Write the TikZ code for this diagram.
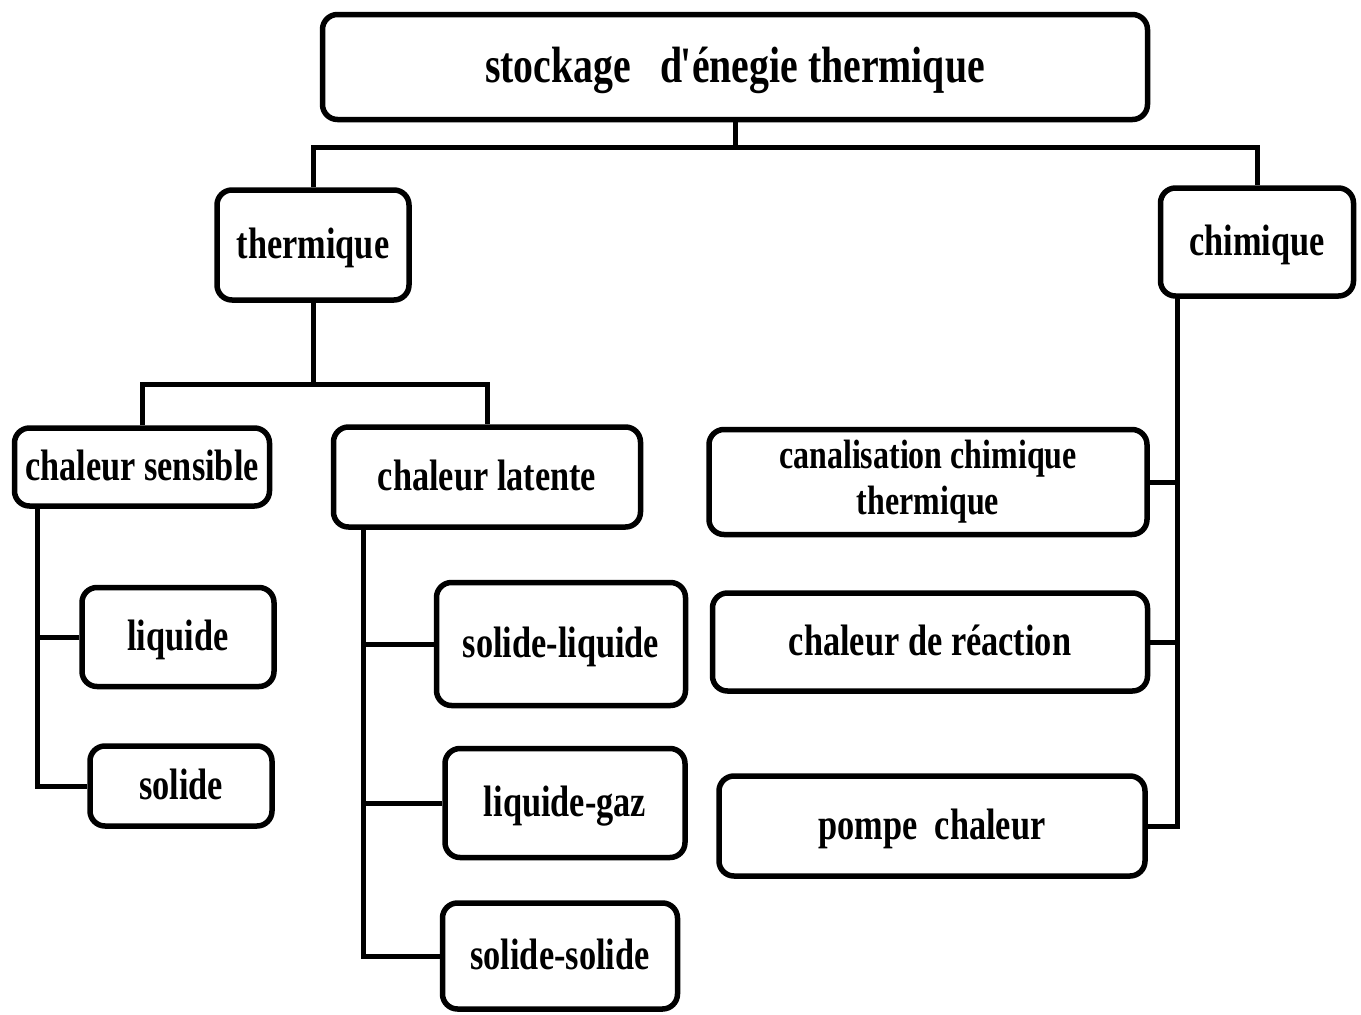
\documentclass[tikz,border=0pt]{standalone}
\usepackage{fontspec}
\setmainfont[FakeStretch=0.78]{Liberation Serif}
\begin{document}
\begin{tikzpicture}[x=1pt,y=-1pt,
  box/.style={draw=black, line width=5.5pt, rounded corners=15pt, fill=white,
    inner sep=0pt, font=\fontsize{44}{46}\selectfont\bfseries},
  one/.style={text height=32pt, text depth=6pt},
  wire/.style={line width=5pt, line join=miter}]
\useasboundingbox (0,0) rectangle (1361,1015);
% boxes
\node[box, text height=37pt, text depth=7pt, minimum width=825pt, minimum height=105pt, font=\fontsize{51}{54}\selectfont\bfseries] (top) at (735,67) {stockage\ \ \ d\kern-0.04em\textquotesingle\kern-0.06em énegie thermique};
\node[box, one, minimum width=192pt, minimum height=110pt] (therm) at (313,245) {thermique};
\node[box, one, minimum width=193pt, minimum height=108pt] (chim) at (1257,242) {chimique};
\node[box, one, minimum width=255pt, minimum height=78pt] (sens) at (142,467) {chaleur sensible};
\node[box, one, minimum width=307pt, minimum height=100pt] (lat) at (487,477) {chaleur latente};
\node[box, one, minimum width=192pt, minimum height=99pt] (liq) at (178,637) {liquide};
\node[box, one, minimum width=182pt, minimum height=80pt] (sol) at (181,786) {solide};
\node[box, one, minimum width=249pt, minimum height=123pt] (sl) at (561,644) {solide-liquide};
\node[box, one, minimum width=240pt, minimum height=109pt] (lg) at (565,803) {liquide-gaz};
\node[box, one, minimum width=235pt, minimum height=106pt] (ss) at (560,956) {solide-solide};
\node[box, minimum width=438pt, minimum height=105pt, align=center, font=\fontsize{41}{46}\selectfont\bfseries] (can) at (928,482) {canalisation chimique\\thermique};
\node[box, one, minimum width=435pt, minimum height=98pt] (cr) at (930,642) {chaleur de réaction};
\node[box, one, minimum width=426pt, minimum height=100pt] (pc) at (932,826) {pompe\ \ chaleur};
% bus points
\coordinate (b1) at (735,147);
\coordinate (b2) at (313,384);
\coordinate (s0) at (37,508);
\coordinate (l0) at (363,530);
\coordinate (c0) at (1177,298);
% connectors
\draw[wire] (top.south) -- (b1);
\draw[wire] (therm.north) |- (b1) -| (chim.north);
\draw[wire] (therm.south) -- (b2);
\draw[wire] (sens.north) |- (b2) -| (lat.north);
\draw[wire] (s0) |- (sol.west);
\draw[wire] (liq.west) -- (liq.west -| s0);
\draw[wire] (l0) |- (ss.west);
\draw[wire] (sl.west) -- (sl.west -| l0);
\draw[wire] (lg.west) -- (lg.west -| l0);
\draw[wire] (c0) |- (pc.east);
\draw[wire] (can.east) -- (can.east -| c0);
\draw[wire] (cr.east) -- (cr.east -| c0);
\end{tikzpicture}
\end{document}
